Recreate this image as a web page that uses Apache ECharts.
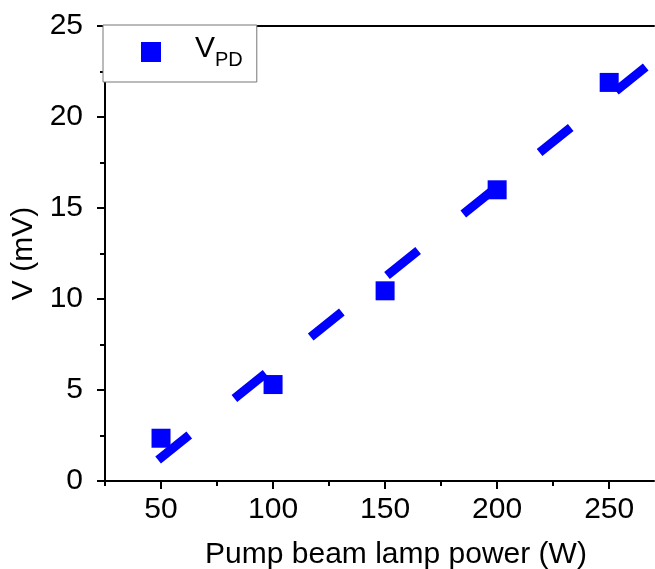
<!DOCTYPE html>
<html>
<head>
<meta charset="utf-8">
<script src="https://cdn.jsdelivr.net/npm/echarts@6/dist/echarts.min.js"></script>
<style>
  html, body { margin: 0; padding: 0; background: #fff; }
  #chart { width: 655px; height: 569px; }
</style>
</head>
<body>
<div id="chart"></div>
<script>
// Photodiode voltage vs. pump lamp power
const lampPower = [50, 100, 150, 200, 250];
const voltage = [2.35, 5.3, 10.45, 16.0, 21.9];

// Linear fit, drawn between its two end points
const fitPower = [48.7, 266.3];
const fitVoltage = [1.15, 22.75];

const majorTicksX = [50, 100, 150, 200, 250];
const minorTicksX = [25, 75, 125, 175, 225];

const FONT = 'Liberation Sans, Arial, sans-serif';
const BLUE = '#0000ff';

const chart = echarts.init(document.getElementById('chart'), null, { renderer: 'canvas' });

const xRange = { min: 25, max: 270 };

chart.setOption({
  animation: false,
  backgroundColor: '#ffffff',
  grid: { left: 105, top: 26, bottom: 88, right: 1, containLabel: false, outerBoundsMode: 'none' },
  legend: {
    left: 103,
    top: 25,
    data: ['VPD'],
    backgroundColor: '#ffffff',
    borderColor: '#777777',
    borderWidth: 1,
    borderRadius: 0,
    padding: [9, 14, 12, 38],
    itemWidth: 20,
    itemHeight: 20,
    icon: 'rect',
    z: 10,
    formatter: () => '{v|V}{s|PD}',
    textStyle: {
      padding: [0, 0, 0, 29],
      rich: {
        v: { fontFamily: FONT, fontSize: 30, color: '#000', verticalAlign: 'bottom', padding: [0, 0, 6, 0] },
        s: { fontFamily: FONT, fontSize: 20, color: '#000', verticalAlign: 'bottom' }
      }
    }
  },
  xAxis: [
    {
      type: 'value',
      position: 'bottom',
      min: xRange.min,
      max: xRange.max,
      name: 'Pump beam lamp power (W)',
      nameLocation: 'middle',
      nameGap: 59,
      nameTextStyle: { fontFamily: FONT, fontSize: 30, color: '#000', padding: [0, 0, 0, 33] },
      axisLine: { show: true, onZero: false, lineStyle: { color: '#000', width: 2 } },
      axisTick: { show: true, inside: false, length: 8, customValues: majorTicksX, lineStyle: { color: '#000', width: 2 } },
      axisLabel: { show: true, customValues: majorTicksX, margin: 14, fontFamily: FONT, fontSize: 30, color: '#000' },
      splitLine: { show: false }
    },
    {
      type: 'value',
      position: 'bottom',
      min: xRange.min,
      max: xRange.max,
      axisLine: { show: false },
      axisTick: { show: true, inside: false, length: 5, customValues: minorTicksX, lineStyle: { color: '#000', width: 2 } },
      axisLabel: { show: false },
      splitLine: { show: false }
    },
    {
      type: 'value',
      position: 'top',
      min: xRange.min,
      max: xRange.max,
      axisLine: { show: true, onZero: false, lineStyle: { color: '#000', width: 2 } },
      axisTick: { show: false },
      axisLabel: { show: false },
      splitLine: { show: false }
    }
  ],
  yAxis: {
    type: 'value',
    min: 0,
    max: 25,
    interval: 5,
    name: 'V (mV)',
    nameLocation: 'middle',
    nameGap: 52,
    nameTextStyle: { fontFamily: FONT, fontSize: 30, color: '#000' },
    axisLine: { show: true, onZero: false, lineStyle: { color: '#000', width: 2 } },
    axisTick: { show: true, inside: false, length: 8, lineStyle: { color: '#000', width: 2 } },
    minorTick: { show: true, splitNumber: 2, length: 5, lineStyle: { color: '#000', width: 2 } },
    axisLabel: { margin: 22, fontFamily: FONT, fontSize: 30, color: '#000' },
    splitLine: { show: false },
    minorSplitLine: { show: false }
  },
  series: [
    {
      name: 'VPD',
      type: 'scatter',
      xAxisIndex: 0,
      symbol: 'rect',
      symbolSize: 19,
      itemStyle: { color: BLUE, opacity: 1 },
      data: lampPower.map((p, i) => [p, voltage[i]]),
      z: 3
    },
    {
      name: 'fit',
      type: 'line',
      xAxisIndex: 0,
      showSymbol: false,
      symbol: 'none',
      lineStyle: { color: BLUE, width: 9, type: [40, 58], cap: 'butt' },
      data: fitPower.map((p, i) => [p, fitVoltage[i]]),
      z: 4
    }
  ]
});
</script>
</body>
</html>
